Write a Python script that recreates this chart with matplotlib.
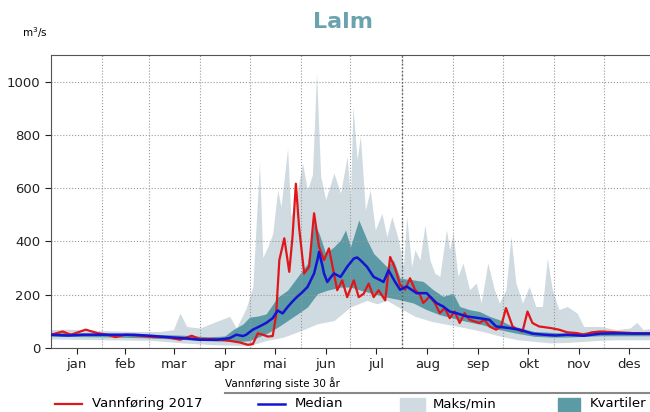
import matplotlib.pyplot as plt
import numpy as np
from matplotlib.lines import Line2D
from matplotlib.patches import Rectangle

# Vannføring 2017 (day of year, m3/s)
red_days = [0, 7, 12, 21, 28, 34, 39, 45, 54, 62, 70, 78, 85, 90, 98, 106, 114, 119, 122, 125,
            128, 131, 134, 136, 138, 141, 144, 146, 148, 150, 153, 156, 159, 162, 165, 168, 171,
            173, 176, 179, 183, 186, 189, 192, 195, 198, 202, 205, 208, 211, 214, 217, 220, 223,
            225, 229, 232, 235, 238, 241, 244, 247, 250, 253, 259, 262, 265, 269, 272, 275, 279,
            282, 285, 288, 291, 295, 302, 307, 312, 318, 322, 327, 332, 342, 352, 364]
red_vals = [50, 62, 50, 69, 56, 50, 41, 50, 46, 41, 41, 31, 46, 34, 34, 29, 21, 12, 15, 55,
            50, 43, 45, 120, 330, 412, 286, 420, 617, 450, 280, 305, 506, 380, 330, 374, 280,
            217, 254, 191, 254, 191, 204, 242, 191, 217, 179, 342, 298, 237, 219, 262, 219, 200,
            169, 194, 169, 131, 150, 112, 137, 94, 131, 106, 94, 106, 81, 69, 80, 150, 81,
            69, 62, 137, 94, 81, 75, 69, 59, 56, 50, 59, 62, 59, 56, 56]

# Median
med_days = [0, 10, 20, 29, 40, 50, 60, 70, 80, 90, 100, 108, 112, 116, 118, 122, 126, 130, 134,
            137, 140, 143, 146, 149, 151, 155, 159, 161, 162, 164, 165, 167, 169, 171, 175, 179,
            183, 185, 187, 191, 195, 199, 201, 204, 208, 211, 215, 221, 227, 233, 237, 241, 245,
            251, 259, 265, 269, 277, 283, 291, 298, 305, 312, 322, 332, 342, 352, 364]
med_vals = [50, 47, 50, 50, 50, 50, 46, 41, 37, 31, 31, 37, 50, 45, 50, 69, 81, 94, 112,
            141, 130, 154, 175, 194, 204, 229, 280, 330, 361, 310, 280, 248, 265, 280, 267, 305,
            336, 340, 330, 305, 267, 255, 248, 292, 248, 219, 231, 206, 206, 169, 156, 137, 131,
            119, 112, 106, 81, 75, 69, 54, 50, 47, 50, 46, 54, 55, 54, 54]

# Maks / min
max_days = [0, 9, 29, 50, 66, 74, 78, 82, 90, 100, 108, 112, 118, 122, 126, 128, 131, 134, 137,
            139, 143, 145, 148, 152, 155, 158, 160.5, 163, 166, 171, 175, 179, 181, 182.5, 185,
            187, 190, 193, 196, 200, 203, 206, 210, 213, 215, 218, 220, 223, 226, 229, 232, 235,
            239, 241, 243, 246, 249, 253, 257, 260, 264, 268, 271, 275, 278, 281, 285, 289, 293,
            297, 300, 303, 307, 312, 318, 322, 332, 342, 350, 354, 358, 364]
max_vals = [69, 71, 66, 62, 62, 69, 131, 81, 75, 100, 119, 75, 150, 231, 700, 340, 380, 430, 594,
            531, 750, 494, 557, 695, 594, 650, 1035, 645, 557, 657, 582, 720, 557, 908, 708,
            796, 519, 594, 443, 506, 418, 494, 406, 306, 494, 306, 369, 331, 462, 331, 281, 269,
            444, 369, 431, 269, 319, 219, 244, 169, 319, 219, 169, 219, 419, 244, 169, 231, 156,
            156, 337, 219, 144, 156, 131, 81, 81, 69, 75, 96, 69, 75]
min_days = [0, 30, 60, 80, 100, 120, 130, 140, 151, 161, 171, 181, 191, 197, 203, 211, 220, 230,
            241, 251, 261, 272, 282, 292, 302, 312, 322, 332, 342, 364]
min_vals = [34, 31, 29, 19, 12, 9, 28, 40, 65, 91, 103, 154, 179, 166, 179, 150, 119, 100,
            87, 75, 62, 44, 31, 25, 19, 21, 25, 29, 31, 31]

# Kvartiler
q75_days = [0, 30, 60, 80, 95, 105, 110, 116, 120, 125, 130, 137, 143, 149, 155, 159, 162, 166,
            171, 175, 178, 181, 186, 191, 195, 199, 203, 207, 211, 219, 225, 231, 237, 243, 247,
            253, 259, 265, 271, 277, 284, 292, 302, 312, 332, 364]
q75_vals = [58, 56, 52, 48, 42, 45, 69, 90, 116, 120, 128, 191, 217, 267, 317, 468, 431, 355,
            380, 406, 443, 380, 481, 406, 355, 330, 305, 330, 262, 256, 250, 219, 194, 206, 156,
            144, 137, 119, 106, 87, 75, 62, 59, 56, 62, 62]
q25_days = [0, 30, 60, 80, 100, 115, 120, 130, 137, 143, 149, 155, 161, 167, 175, 181, 187, 195,
            203, 211, 219, 227, 235, 243, 251, 261, 271, 281, 292, 302, 312, 332, 364]
q25_vals = [44, 42, 38, 32, 26, 25, 28, 53, 78, 103, 128, 154, 204, 217, 229, 229, 217, 204,
            191, 181, 169, 144, 125, 112, 100, 87, 69, 56, 44, 41, 41, 46, 46]

months = ["jan", "feb", "mar", "apr", "mai", "jun", "jul", "aug", "sep", "okt", "nov", "des"]
month_start = [0, 31, 59, 90, 120, 151, 181, 212, 243, 273, 304, 334, 365]

fig = plt.figure(figsize=(6.5, 4.12), dpi=100)
ax = fig.add_axes([0.0785, 0.1553, 0.929, 0.711])

light = "#cfdbe0"
dark = "#5c9aa5"

# shared day grid only for filling between two read series
days = np.arange(0, 364.5, 0.5)
ax.fill_between(days, np.interp(days, min_days, min_vals), np.interp(days, max_days, max_vals),
                color=light, lw=0)
ax.fill_between(days, np.interp(days, q25_days, q25_vals), np.interp(days, q75_days, q75_vals),
                color=dark, lw=0)
ax.plot(red_days, red_vals, color="#e0161b", lw=1.6, zorder=3)
ax.plot(med_days, med_vals, color="#1414d2", lw=1.8, zorder=4)

ax.set_xlim(0, 365)
ax.set_ylim(0, 1100)
ax.set_yticks(range(0, 1001, 200))
mids = [(month_start[i] + month_start[i + 1]) / 2 for i in range(12)]
ax.set_xticks(mids)
ax.set_xticklabels(months)
ax.set_xticks(month_start[:-1], minor=True)
ax.tick_params(axis="x", which="minor", length=0)
ax.tick_params(labelsize=9.5, colors="#222222", length=4)
ax.grid(True, which="minor", axis="x", ls=":", color="#999999", lw=0.8)
ax.grid(True, which="major", axis="y", ls=":", color="#999999", lw=0.8)
ax.axvline(212, ls=":", color="#555555", lw=1.0, zorder=1.6)

for s in ["left", "bottom", "top"]:
    ax.spines[s].set_color("#555555")
ax.spines["right"].set_visible(False)

fig.text(0.528, 0.947, "Lalm", ha="center", va="center", fontsize=16,
         fontweight="bold", color="#6aa3ae")
fig.text(0.034, 0.922, "m$^3$/s", ha="left", va="center", fontsize=7.5)

# legend at the bottom
fig.text(0.346, 0.07, "Vannføring siste 30 år", ha="left", va="center", fontsize=7.5)
fig.add_artist(Line2D([0.346, 1.0], [0.046, 0.046], color="#888888", lw=1.5))
ly = 0.02
fig.add_artist(Line2D([0.085, 0.126], [ly, ly], color="#e0161b", lw=1.6))
fig.text(0.142, ly, "Vannføring 2017", ha="left", va="center", fontsize=9.5)
fig.add_artist(Line2D([0.397, 0.438], [ly, ly], color="#1414d2", lw=1.8))
fig.text(0.454, ly, "Median", ha="left", va="center", fontsize=9.5)
fig.add_artist(Rectangle((0.615, -0.01), 0.039, 0.045, color=light, transform=fig.transFigure))
fig.text(0.666, ly, "Maks/min", ha="left", va="center", fontsize=9.5)
fig.add_artist(Rectangle((0.858, -0.01), 0.034, 0.045, color=dark, transform=fig.transFigure))
fig.text(0.908, ly, "Kvartiler", ha="left", va="center", fontsize=9.5)

fig.savefig("out.png", dpi=100)
